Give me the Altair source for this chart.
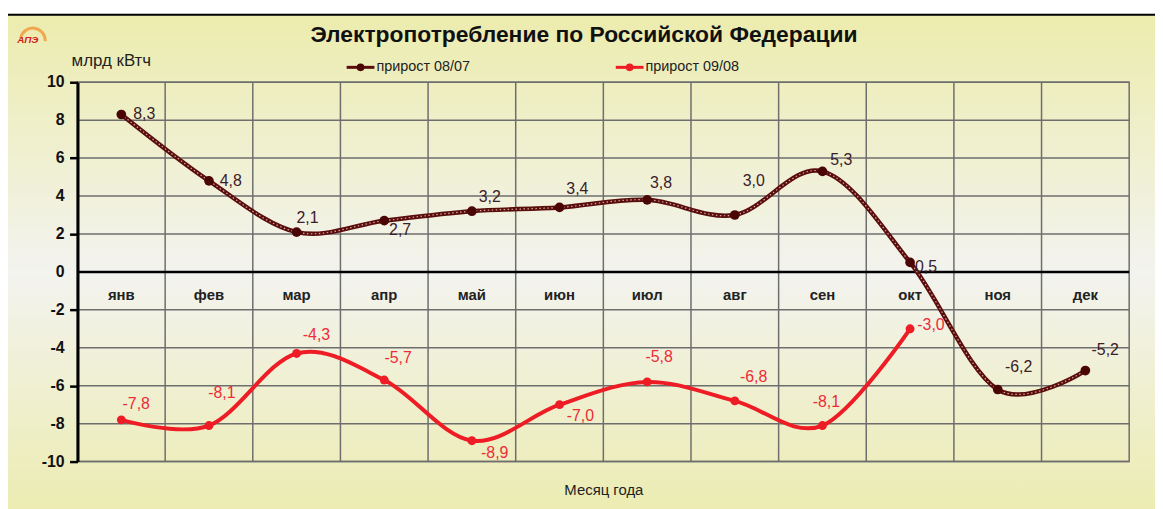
import altair as alt
import pandas as pd

months = ["янв", "фев", "мар", "апр", "май", "июн", "июл", "авг", "сен", "окт", "ноя", "дек"]
growth_0807 = [8.3, 4.8, 2.1, 2.7, 3.2, 3.4, 3.8, 3.0, 5.3, 0.5, -6.2, -5.2]
growth_0908 = [-7.8, -8.1, -4.3, -5.7, -8.9, -7.0, -5.8, -6.8, -8.1, -3.0]
y_ticks = [-10, -8, -6, -4, -2, 0, 2, 4, 6, 8, 10]

# label offsets (pixels) relative to each point, style only
lab_dx_0807 = [23, 22, 11, 16, 18, 18, 14, 19, 19, 16, 21, 20]
lab_dy_0807 = [0, 0, -14, 9, -14, -19, -17, -34, -11, 5, -23, -21]
lab_dx_0908 = [15, 13, 20, 14, 23, 21, 12, 19, 4, 21]
lab_dy_0908 = [-16, -33, -19, -22, 12, 11, -25, -24, -24, -4]

W, H = 1059, 382
FONT = "Liberation Sans"
GRID = "#6e6e6e"


def fmt(v):
    return f"{v:.1f}".replace(".", ",")


df1 = pd.DataFrame({"month": months, "v": growth_0807,
                    "lab": [fmt(v) for v in growth_0807],
                    "ldx": lab_dx_0807, "ldy": lab_dy_0807})
df2 = pd.DataFrame({"month": months[:len(growth_0908)], "v": growth_0908,
                    "lab": [fmt(v) for v in growth_0908],
                    "ldx": lab_dx_0908, "ldy": lab_dy_0908})
dfm = pd.DataFrame({"month": months})
dft = pd.DataFrame({"v": y_ticks, "lab": [str(t) for t in y_ticks]})
one = pd.DataFrame({"k": [0]})

xscale = alt.Scale(type="band", paddingInner=0, paddingOuter=0)
yscale = alt.Scale(domain=[-10, 10], nice=False, zero=False)
xaxis = alt.Axis(title="Месяц года", labels=False, ticks=False, domain=False,
                 grid=False, zindex=1,
                 titleFont=FONT, titleFontSize=15, titleFontWeight="normal",
                 titleColor="#222222", titlePadding=21)
yaxis = alt.Axis(title=None, values=y_ticks, grid=False, zindex=1, labels=False,
                 domainColor="black", domainWidth=3,
                 tickColor="black", tickWidth=2.5, tickSize=8)


def X(**kw):
    return alt.X("month:N", sort=months, scale=xscale, axis=xaxis, **kw)


def Y():
    return alt.Y("v:Q", scale=yscale, axis=yaxis)


grad = alt.Gradient(gradient="linear", x1=0, x2=0, y1=0, y2=1,
                    stops=[alt.GradientStop(color="#ececae", offset=0),
                           alt.GradientStop(color="#f3f3ef", offset=0.52),
                           alt.GradientStop(color="#ececb2", offset=1)])

bg = alt.Chart(one).mark_rect(color=grad).encode(
    x=alt.value(-70), x2=alt.value(W + 30), y=alt.value(-68), y2=alt.value(H + 50))
topline = alt.Chart(one).mark_rule(color="black", strokeWidth=2).encode(
    x=alt.value(-70), x2=alt.value(W + 30), y=alt.value(-68))

hgrid = alt.Chart(dft).mark_rule(color=GRID, strokeWidth=1.5).encode(
    y=Y(), x=alt.value(0), x2=alt.value(W))
ylabels = alt.Chart(dft).mark_text(font=FONT, fontSize=16, fontWeight="bold",
                                   color="#111111", align="right",
                                   baseline="middle").encode(
    y=Y(), x=alt.value(-13), text="lab:N")
vgrid = alt.Chart(dfm).mark_rule(color=GRID, strokeWidth=1.5).encode(
    x=X(bandPosition=0), y=alt.value(0), y2=alt.value(H))
border = alt.Chart(one).mark_rect(fillOpacity=0, stroke=GRID, strokeWidth=1.5).encode(
    x=alt.value(0), x2=alt.value(W), y=alt.value(0), y2=alt.value(H))

zero = alt.Chart(one).mark_rule(color="black", strokeWidth=2.5).encode(
    y=alt.datum(0), x=alt.value(0), x2=alt.value(W))

month_labels = alt.Chart(dfm).mark_text(font=FONT, fontSize=15, fontWeight="bold",
                                        color="#222222", dy=23, baseline="middle").encode(
    x=X(), y=alt.datum(0), text="month:N")

base = alt.Chart(df1).encode(x=X(), y=Y())
line1 = base.mark_line(color="#5a0d0d", strokeWidth=4.5, interpolate="cardinal")
line1b = base.mark_line(color="#d4a89a", strokeWidth=1.2, strokeDash=[1.5, 2.5],
                        interpolate="cardinal")
pts1 = base.mark_circle(color="#4a0505", size=95, opacity=1)
txt1 = base.mark_text(font=FONT, fontSize=16, color="#3a2028", baseline="middle",
                      dx=alt.ExprRef(expr="datum.ldx"),
                      dy=alt.ExprRef(expr="datum.ldy")).encode(text="lab:N")

base2 = alt.Chart(df2).encode(x=X(), y=Y())
line2 = base2.mark_line(color="#ee1c25", strokeWidth=4, interpolate="cardinal")
pts2 = base2.mark_circle(color="#ee1c25", size=80, opacity=1)
txt2 = base2.mark_text(font=FONT, fontSize=16, color="#ee2b36", baseline="middle",
                       dx=alt.ExprRef(expr="datum.ldx"),
                       dy=alt.ExprRef(expr="datum.ldy")).encode(text="lab:N")

# titles / legend / logo (decorations)
title = alt.Chart(one).mark_text(text="Электропотребление по Российской Федерации",
                                 font=FONT, fontSize=23, fontWeight="bold", color="#111111",
                                 baseline="middle").encode(x=alt.value(510), y=alt.value(-48))
yunit = alt.Chart(one).mark_text(text="млрд кВтч", font=FONT, fontSize=17, color="#222222",
                                 align="left", baseline="middle").encode(
    x=alt.value(-6), y=alt.value(-21))

leg_line1 = alt.Chart(one).mark_rule(color="#5a0d0d", strokeWidth=3).encode(
    x=alt.value(271), x2=alt.value(299), y=alt.value(-15))
leg_pt1 = alt.Chart(one).mark_circle(color="#4a0505", size=60, opacity=1).encode(
    x=alt.value(285), y=alt.value(-15))
leg_txt1 = alt.Chart(one).mark_text(text="прирост 08/07", font=FONT, fontSize=14.5,
                                    color="#222222", align="left", baseline="middle").encode(
    x=alt.value(301), y=alt.value(-15))
leg_line2 = alt.Chart(one).mark_rule(color="#ee1c25", strokeWidth=3).encode(
    x=alt.value(542), x2=alt.value(570), y=alt.value(-15))
leg_pt2 = alt.Chart(one).mark_circle(color="#ee1c25", size=60, opacity=1).encode(
    x=alt.value(556), y=alt.value(-15))
leg_txt2 = alt.Chart(one).mark_text(text="прирост 09/08", font=FONT, fontSize=14.5,
                                    color="#222222", align="left", baseline="middle").encode(
    x=alt.value(572), y=alt.value(-15))

logo_arc = alt.Chart(one).mark_arc(color="#f0a850", radius=14, radius2=11,
                                   theta=4.9, theta2=7.9).encode(
    x=alt.value(-45), y=alt.value(-42))
logo_txt = alt.Chart(one).mark_text(text="АПЭ", font=FONT, fontSize=10, fontWeight="bold",
                                    fontStyle="italic", color="#d42020",
                                    baseline="middle").encode(
    x=alt.value(-50), y=alt.value(-43))

chart = alt.layer(
    bg, topline, hgrid, vgrid, border, zero, month_labels,
    line1, line1b, pts1, txt1, line2, pts2, txt2, ylabels,
    title, yunit, leg_line1, leg_pt1, leg_txt1, leg_line2, leg_pt2, leg_txt2,
    logo_arc, logo_txt
).properties(
    width=W, height=H,
    autosize=alt.AutoSizeParams(type="none"),
    padding={"left": 70, "top": 73, "right": 26, "bottom": 46},
    background="white",
).configure_view(stroke=None)

chart.save("out.html", embed_options={"renderer": "svg", "actions": False})
